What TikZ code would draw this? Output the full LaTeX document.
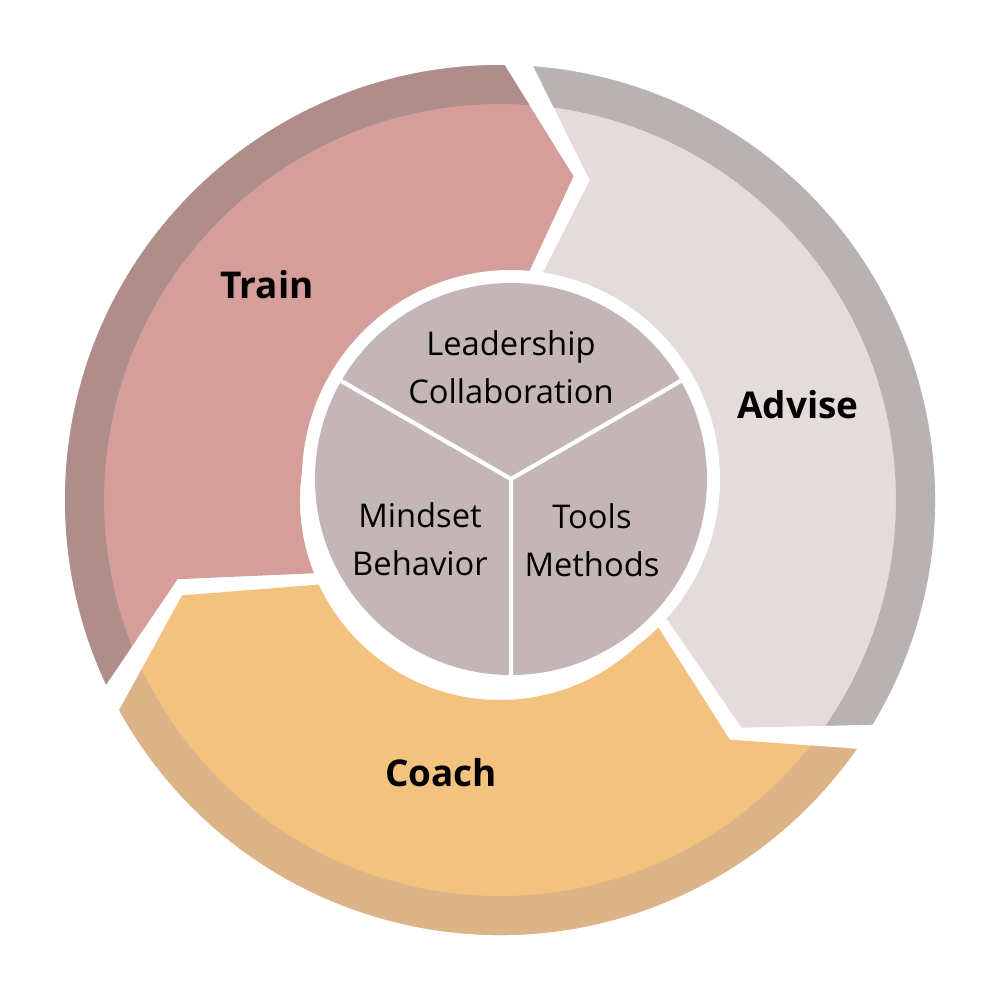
\documentclass[tikz,border=0pt]{standalone}
\usepackage{fontspec}
\setmainfont{Open Sans}
\usepackage{tikz}
\usetikzlibrary{positioning}

\definecolor{trainfill}{HTML}{D69E9B}
\definecolor{trainband}{HTML}{AF8D8B}
\definecolor{advisefill}{HTML}{E3DCDB}
\definecolor{adviseband}{HTML}{B8B3B2}
\definecolor{coachfill}{HTML}{F4C27F}
\definecolor{coachband}{HTML}{DCB488}
\definecolor{corefill}{HTML}{C4B6B6}

% chevron shaped ring segment from angle #1 (head) to #2 (tail)
\newcommand{\ringseg}[4]{%
  \begin{scope}
    \path[clip] ({#1+1.9}:435) arc[start angle={#1+1.9},end angle={#2-1.9},radius=435]
      -- ({#2-13.2}:332) -- ({#2-5.5}:200)
      arc[start angle={#2-5.5},end angle={#1-2},radius=200]
      -- ({#1-10.3}:332) -- cycle;
    \fill[#3] (0,0) circle[radius=440];
    \fill[#4,even odd rule] (0,0) circle[radius=436] circle[radius=396];
  \end{scope}}

\begin{document}
\begin{tikzpicture}[x=0.01cm,y=0.01cm,
    biglabel/.style={font=\fontsize{10.5}{12}\selectfont\bfseries},
    corelabel/.style={align=center,font=\fontsize{9.3}{13.5}\selectfont}]
  \useasboundingbox (-500,-500) rectangle (500,500);
%% outer ring
  \ringseg{87.5}{207}{trainfill}{trainband}
  \ringseg{-33}{87.5}{advisefill}{adviseband}
  \ringseg{207}{327}{coachfill}{coachband}
%% core
  \coordinate (core) at (11,21);
  \fill[white] (core) circle[radius=209];
  \fill[corefill] (core) circle[radius=196];
  \draw[white,line width=1.2pt] (core) -- ++(150:196) (core) -- ++(30:196) (core) -- ++(270:196);
  \node[biglabel] (train)  at (-233,215) {Train};
  \node[biglabel] (advise) at (298,95)   {Advise};
  \node[biglabel] (coach)  at (-59,-273) {Coach};
  \node[corelabel] (lead)  at (11,133)   {Leadership\\Collaboration};
  \node[corelabel] (mind)  at (-80,-39)  {Mindset\\Behavior};
  \node[corelabel] (tools) at (92,-40)   {Tools\\Methods};
\end{tikzpicture}
\end{document}
